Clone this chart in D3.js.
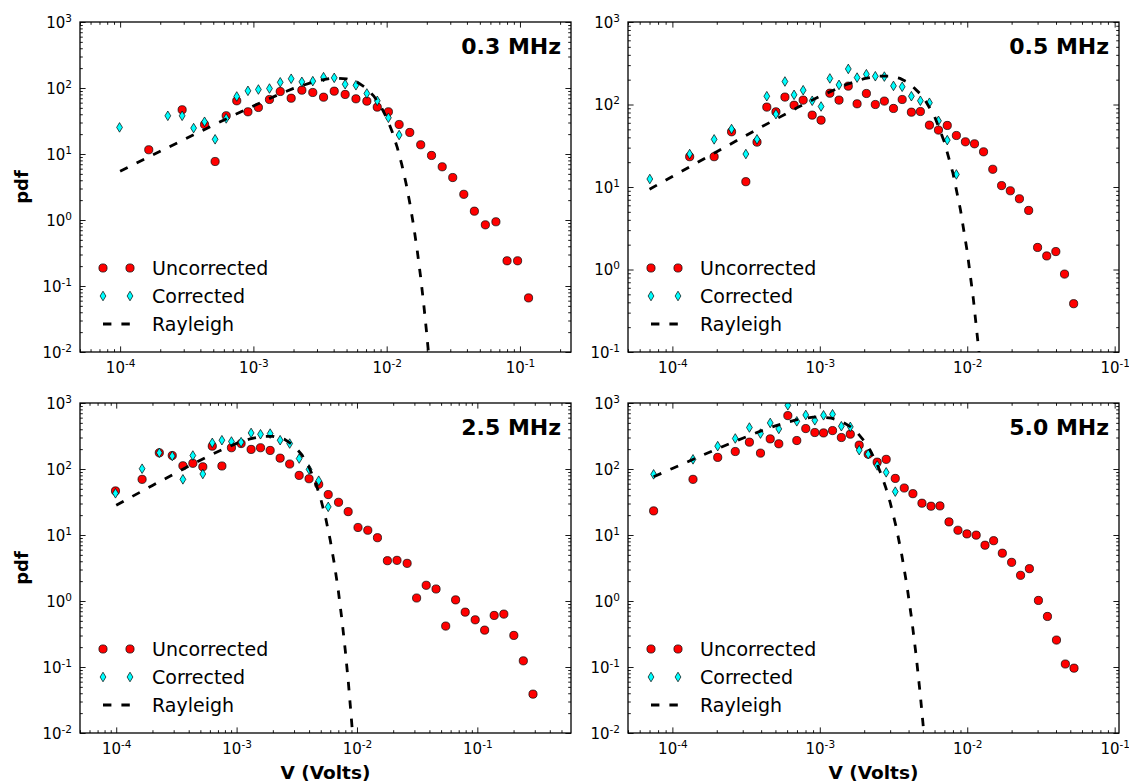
<!DOCTYPE html>
<html><head><meta charset="utf-8">
<script src="https://cdn.jsdelivr.net/npm/d3@7/dist/d3.min.js"></script>
<style>
body{margin:0;background:#fff;}
svg{display:block;font-family:"DejaVu Sans",sans-serif;}
</style>
</head><body>
<svg id="chart" width="1129" height="782"></svg>
<script>
// ---------------- DATA ----------------
const panelTitles = ["0.3 MHz", "0.5 MHz", "2.5 MHz", "5.0 MHz"];
const legendLabels = ["Uncorrected", "Corrected", "Rayleigh"];
const xAxisLabel = "V (Volts)";
const yAxisLabel = "pdf";

// 0.3 MHz
const u03_v = [1.64e-4,2.92e-4,4.3e-4,5.16e-4,6.25e-4,7.5e-4,9.1e-4,1.09e-3,1.32e-3,1.59e-3,1.92e-3,2.31e-3,2.79e-3,3.36e-3,4.04e-3,4.88e-3,5.88e-3,7.1e-3,8.5e-3,1.03e-2,1.24e-2,1.49e-2,1.80e-2,2.17e-2,2.61e-2,3.13e-2,3.79e-2,4.55e-2,5.5e-2,6.6e-2,8.0e-2,9.6e-2,0.116];
const u03_pdf = [11.6,46.8,28,7.7,38,64,43.6,50.7,67,88.5,70,92.7,85.5,72.6,89.5,79.8,68.6,63.2,51.3,43.6,28,21.2,13.8,9.5,6.4,4.4,2.45,1.36,0.845,0.94,0.241,0.241,0.066];
const c03_v = [9.9e-5,2.28e-4,2.92e-4,3.56e-4,4.3e-4,5.16e-4,6.25e-4,7.5e-4,9.1e-4,1.09e-3,1.32e-3,1.59e-3,1.92e-3,2.31e-3,2.79e-3,3.36e-3,4.04e-3,4.88e-3,5.88e-3,7.1e-3,8.5e-3,1.03e-2,1.24e-2];
const c03_pdf = [25.3,37.9,37.9,24.7,30.8,16.7,34.6,74.4,90.6,94.9,98.2,122,138,124,127,146,142.6,114,110,82.6,64,35.4,19.4];
const r03_v = [1e-4,2e-4,4e-4,7e-4,1e-3,1.5e-3,2e-3,3e-3,4e-3,5e-3,6e-3,7e-3,8e-3,9e-3,1e-2,1.1e-2,1.2e-2,1.3e-2,1.4e-2,1.5e-2,1.6e-2,1.7e-2,1.8e-2,1.9e-2,2.0e-2,2.1e-2];
const r03_pdf = [5.5,11.0,21.9,38.0,53.5,77.5,98.5,129,142,138,123,100,75.6,53.4,35.2,21.7,12.6,6.85,3.51,1.69,0.77,0.33,0.134,0.051,0.0184,0.0063];

// 0.5 MHz
const u05_v = [1.31e-4,1.92e-4,2.52e-4,3.15e-4,3.75e-4,4.37e-4,5.04e-4,5.8e-4,6.69e-4,7.71e-4,8.88e-4,1.02e-3,1.17e-3,1.35e-3,1.56e-3,1.79e-3,2.07e-3,2.38e-3,2.74e-3,3.16e-3,3.62e-3,4.18e-3,4.81e-3,5.54e-3,6.38e-3,7.32e-3,8.44e-3,9.72e-3,1.12e-2,1.29e-2,1.49e-2,1.71e-2,1.96e-2,2.26e-2,2.61e-2,3.0e-2,3.46e-2,3.99e-2,4.57e-2,5.27e-2];
const u05_pdf = [23.3,23.3,46.7,11.6,35,93,81.5,123,98,113,74.3,64.6,137,113,167,102,136,100,110,89.5,115,80.7,82.2,56.2,49,55.7,42.1,35.3,33.4,26.7,16.4,10.4,9.0,7.2,5.2,1.85,1.46,1.65,0.88,0.385];
const c05_v = [7.03e-5,1.31e-4,1.92e-4,2.52e-4,3.15e-4,3.75e-4,4.37e-4,5.04e-4,5.8e-4,6.69e-4,7.71e-4,8.88e-4,1.02e-3,1.17e-3,1.35e-3,1.56e-3,1.79e-3,2.07e-3,2.38e-3,2.74e-3,3.16e-3,3.62e-3,4.18e-3,4.81e-3,5.54e-3,6.38e-3,7.32e-3,8.44e-3];
const c05_pdf = [12.5,25.1,37.8,50.4,25.1,37.8,126,76.4,190,131,149,111,94.6,207,173,270,212,233,220,218,168,164,126,111,105,63.4,37,14.2];
const r05_v = [7e-5,1e-4,2e-4,4e-4,7e-4,1e-3,1.5e-3,2e-3,2.5e-3,3e-3,3.5e-3,4e-3,5e-3,6e-3,7e-3,8e-3,9e-3,1e-2,1.1e-2,1.2e-2,1.25e-2];
const r05_pdf = [9.4,13.4,26.8,53.2,91.1,125.8,173.4,205.7,221,220.5,207,184,125.6,72,35.1,14.7,5.27,1.64,0.44,0.102,0.047];

// 2.5 MHz
const u25_v = [9.86e-5,1.64e-4,2.28e-4,2.92e-4,3.58e-4,4.33e-4,5.24e-4,6.28e-4,7.55e-4,9.06e-4,1.09e-3,1.32e-3,1.58e-3,1.90e-3,2.30e-3,2.76e-3,3.31e-3,4.0e-3,4.81e-3,5.77e-3,7.03e-3,8.45e-3,1.02e-2,1.23e-2,1.48e-2,1.79e-2,2.15e-2,2.61e-2,3.13e-2,3.76e-2,4.54e-2,5.46e-2,6.6e-2,7.93e-2,9.6e-2,0.115,0.138,0.166,0.201,0.241,0.29];
const u25_pdf = [46.5,69.7,176,160,112,122,108,222,111,210,243,198,210,191,146,119,80,71.2,58.6,41,31.3,22.6,13,11.8,9.1,4.08,4.13,3.72,1.11,1.73,1.52,0.417,1.04,0.678,0.519,0.362,0.604,0.633,0.301,0.124,0.0388];
const c25_v = [9.86e-5,1.64e-4,2.28e-4,2.92e-4,3.58e-4,4.33e-4,5.24e-4,6.28e-4,7.55e-4,9.06e-4,1.09e-3,1.32e-3,1.58e-3,1.90e-3,2.30e-3,2.76e-3,3.31e-3,4.0e-3,4.81e-3,5.77e-3];
const c25_pdf = [42.8,101,176,157,69.7,160,84,249,273,261,255,352,336,344,273,243,144,98.6,66.5,26.7];
const r25_v = [1e-4,2e-4,4e-4,6e-4,8e-4,1e-3,1.3e-3,1.6e-3,2e-3,2.5e-3,3e-3,3.5e-3,4e-3,4.5e-3,5e-3,5.5e-3,6e-3,6.5e-3,7e-3,7.5e-3,8e-3,8.5e-3,9e-3,9.3e-3];
const r25_pdf = [28.3,56.3,110.6,161,206,244,287,310,313,281,225,162,106.6,63.9,35.3,17.9,8.3,3.58,1.43,0.52,0.177,0.056,0.016,0.0075];

// 5.0 MHz
const u50_v = [7.46e-5,1.38e-4,2.03e-4,2.67e-4,3.33e-4,3.96e-4,4.61e-4,5.27e-4,6.07e-4,6.98e-4,8.03e-4,9.25e-4,1.06e-3,1.22e-3,1.40e-3,1.61e-3,1.85e-3,2.13e-3,2.45e-3,2.82e-3,3.25e-3,3.74e-3,4.28e-3,4.93e-3,5.68e-3,6.53e-3,7.52e-3,8.65e-3,9.95e-3,1.15e-2,1.32e-2,1.51e-2,1.73e-2,2.0e-2,2.30e-2,2.64e-2,3.04e-2,3.50e-2,4.03e-2,4.63e-2,5.30e-2];
const u50_pdf = [23.2,69.7,150,184,255,174,286,241,644,270,410,357,352,382,300,337,230,168,127,140,72,51.5,42.3,30.3,27.3,27.6,15.8,11.8,10.4,9.95,7.0,8.2,5.3,3.85,2.45,3.09,1.02,0.583,0.256,0.111,0.096];
const c50_v = [7.46e-5,1.38e-4,2.03e-4,2.67e-4,3.33e-4,3.96e-4,4.61e-4,5.27e-4,6.07e-4,6.98e-4,8.03e-4,9.25e-4,1.06e-3,1.22e-3,1.40e-3,1.61e-3,1.85e-3,2.13e-3,2.45e-3,2.82e-3,3.25e-3];
const c50_pdf = [83,140,222,290,425,344,499,405,923,528,659,547,651,675,445,435,193,168,113,89,45.4];
const r50_v = [7.46e-5,1e-4,2e-4,3e-4,4e-4,5e-4,6e-4,7e-4,8e-4,9e-4,1e-3,1.2e-3,1.4e-3,1.6e-3,1.8e-3,2.0e-3,2.2e-3,2.4e-3,2.6e-3,2.8e-3,3.0e-3,3.3e-3,3.6e-3,3.9e-3,4.2e-3,4.5e-3,4.8e-3,5.1e-3];
const r50_pdf = [76.2,101.9,200.7,293,377.5,451,511,558,591,610,615,589,527,444,353,266,191,130,84.6,52.5,31.1,13.1,4.95,1.70,0.53,0.150,0.0386,0.0091];

// ---------------- LAYOUT ----------------
const panels = [
  {title: panelTitles[0], u:[u03_v,u03_pdf], c:[c03_v,c03_pdf], r:[r03_v,r03_pdf],
   left:80, top:22, xDom:[5e-5, 0.2415], yDom:[1e-2, 1e3], xlab:false, ylab:true},
  {title: panelTitles[1], u:[u05_v,u05_pdf], c:[c05_v,c05_pdf], r:[r05_v,r05_pdf],
   left:628, top:22, xDom:[5e-5, 0.107], yDom:[1e-1, 1e3], xlab:false, ylab:false},
  {title: panelTitles[2], u:[u25_v,u25_pdf], c:[c25_v,c25_pdf], r:[r25_v,r25_pdf],
   left:80, top:403, xDom:[5e-5, 0.6], yDom:[1e-2, 1e3], xlab:true, ylab:true},
  {title: panelTitles[3], u:[u50_v,u50_pdf], c:[c50_v,c50_pdf], r:[r50_v,r50_pdf],
   left:628, top:403, xDom:[5e-5, 0.107], yDom:[1e-2, 1e3], xlab:true, ylab:false}
];
const PW = 491, PH = 330;
const RED = "#ff0000", CYAN = "#00ffff";
const DASH = "8.4,10";

const svg = d3.select("#chart");
svg.append("rect").attr("width",1129).attr("height",782).attr("fill","#fff");

function pairs(arr){ return arr[0].map((v,i)=>[v, arr[1][i]]); }
function decades(dom){ const a=[]; for(let e=Math.ceil(Math.log10(dom[0])-1e-9); e<=Math.floor(Math.log10(dom[1])+1e-9); e++) a.push(e); return a; }
function minors(dom){ const a=[]; for(let e=Math.floor(Math.log10(dom[0]))-1; e<=Math.ceil(Math.log10(dom[1])); e++){ for(let k=2;k<=9;k++){ const v=k*Math.pow(10,e); if(v>=dom[0] && v<=dom[1]) a.push(v);} } return a; }
function supText(sel, e){
  sel.text(null);
  sel.append("tspan").text("10");
  sel.append("tspan").attr("dy",-6).attr("font-size",10.5).text(e<0 ? "-"+(-e) : String(e));
}
function diamondPath(cx, cy){ const hw=2.9, hh=4.8; return `M${cx},${cy-hh}L${cx+hw},${cy}L${cx},${cy+hh}L${cx-hw},${cy}Z`; }

panels.forEach((p, idx) => {
  const g = svg.append("g").attr("transform",`translate(${p.left},${p.top})`);
  const x = d3.scaleLog().domain(p.xDom).range([0, PW]);
  const y = d3.scaleLog().domain(p.yDom).range([PH, 0]);
  const clipId = "clip"+idx;
  g.append("clipPath").attr("id",clipId).append("rect").attr("width",PW).attr("height",PH);

  const xMaj = decades(p.xDom).map(e=>Math.pow(10,e));
  const yMaj = decades(p.yDom).map(e=>Math.pow(10,e));
  const xMin = minors(p.xDom), yMin = minors(p.yDom);

  const styleAxis = sel => { sel.select(".domain").remove(); sel.selectAll(".tick line").attr("stroke","#000").attr("stroke-width",0.9); sel.attr("font-family",null).attr("font-size",15); };

  const gxb = g.append("g").attr("transform",`translate(0,${PH})`)
    .call(d3.axisBottom(x).tickValues(xMaj).tickSize(-5.6).tickPadding(10).tickFormat(()=>""));
  styleAxis(gxb);
  gxb.selectAll(".tick text").attr("fill","#000").each(function(d){ supText(d3.select(this), Math.round(Math.log10(d))); });
  g.append("g").attr("transform",`translate(0,${PH})`).call(d3.axisBottom(x).tickValues(xMin).tickSize(-2.8).tickFormat(()=>"")).call(styleAxis);
  g.append("g").call(d3.axisTop(x).tickValues(xMaj).tickSize(-5.6).tickFormat(()=>"")).call(styleAxis);
  g.append("g").call(d3.axisTop(x).tickValues(xMin).tickSize(-2.8).tickFormat(()=>"")).call(styleAxis);

  const gyl = g.append("g").call(d3.axisLeft(y).tickValues(yMaj).tickSize(-5.6).tickPadding(8).tickFormat(()=>""));
  styleAxis(gyl);
  gyl.selectAll(".tick text").attr("fill","#000").attr("dy","0.36em").each(function(d){ supText(d3.select(this), Math.round(Math.log10(d))); });
  g.append("g").call(d3.axisLeft(y).tickValues(yMin).tickSize(-2.8).tickFormat(()=>"")).call(styleAxis);
  g.append("g").attr("transform",`translate(${PW},0)`).call(d3.axisRight(y).tickValues(yMaj).tickSize(-5.6).tickFormat(()=>"")).call(styleAxis);
  g.append("g").attr("transform",`translate(${PW},0)`).call(d3.axisRight(y).tickValues(yMin).tickSize(-2.8).tickFormat(()=>"")).call(styleAxis);

  const plot = g.append("g").attr("clip-path",`url(#${clipId})`);
  plot.selectAll("circle.u").data(pairs(p.u)).join("circle").attr("class","u")
    .attr("cx",d=>x(d[0])).attr("cy",d=>y(d[1])).attr("r",4.1)
    .attr("fill",RED).attr("stroke","#000").attr("stroke-width",0.7);
  plot.selectAll("path.c").data(pairs(p.c)).join("path").attr("class","c")
    .attr("d",d=>diamondPath(x(d[0]), y(d[1])))
    .attr("fill",CYAN).attr("stroke","#000").attr("stroke-width",0.7);
  const line = d3.line().x(d=>x(d[0])).y(d=>y(d[1]));
  plot.append("path").datum(pairs(p.r)).attr("d",line)
    .attr("fill","none").attr("stroke","#000").attr("stroke-width",2.8).attr("stroke-dasharray",DASH);

  g.append("rect").attr("width",PW).attr("height",PH).attr("fill","none").attr("stroke","#000").attr("stroke-width",1.3);

  g.append("text").attr("x",PW-10).attr("y",32).attr("text-anchor","end")
    .attr("font-size",22).attr("font-weight","bold").attr("fill","#000").text(p.title);

  const lg = g.append("g");
  const rows = [PH-84, PH-56, PH-28];
  [23, 50].forEach(mx => {
    lg.append("circle").attr("cx",mx).attr("cy",rows[0]).attr("r",4.1).attr("fill",RED).attr("stroke","#000").attr("stroke-width",0.7);
    lg.append("path").attr("d",diamondPath(mx, rows[1])).attr("fill",CYAN).attr("stroke","#000").attr("stroke-width",0.7);
  });
  lg.append("line").attr("x1",23).attr("x2",50).attr("y1",rows[2]).attr("y2",rows[2])
    .attr("stroke","#000").attr("stroke-width",2.8).attr("stroke-dasharray",DASH);
  legendLabels.forEach((t,i)=>{
    lg.append("text").attr("x",72).attr("y",rows[i]).attr("dy","0.36em").attr("font-size",19).attr("fill","#000").text(t);
  });

  if (p.ylab) {
    g.append("text").attr("transform",`translate(${28-p.left},${PH/2}) rotate(-90)`).attr("text-anchor","middle")
      .attr("font-size",18).attr("font-weight","bold").attr("fill","#000").text(yAxisLabel);
  }
  if (p.xlab) {
    g.append("text").attr("x",PW/2).attr("y",779-p.top).attr("text-anchor","middle")
      .attr("font-size",18.5).attr("font-weight","bold").attr("fill","#000").text(xAxisLabel);
  }
});
</script>
</body></html>
